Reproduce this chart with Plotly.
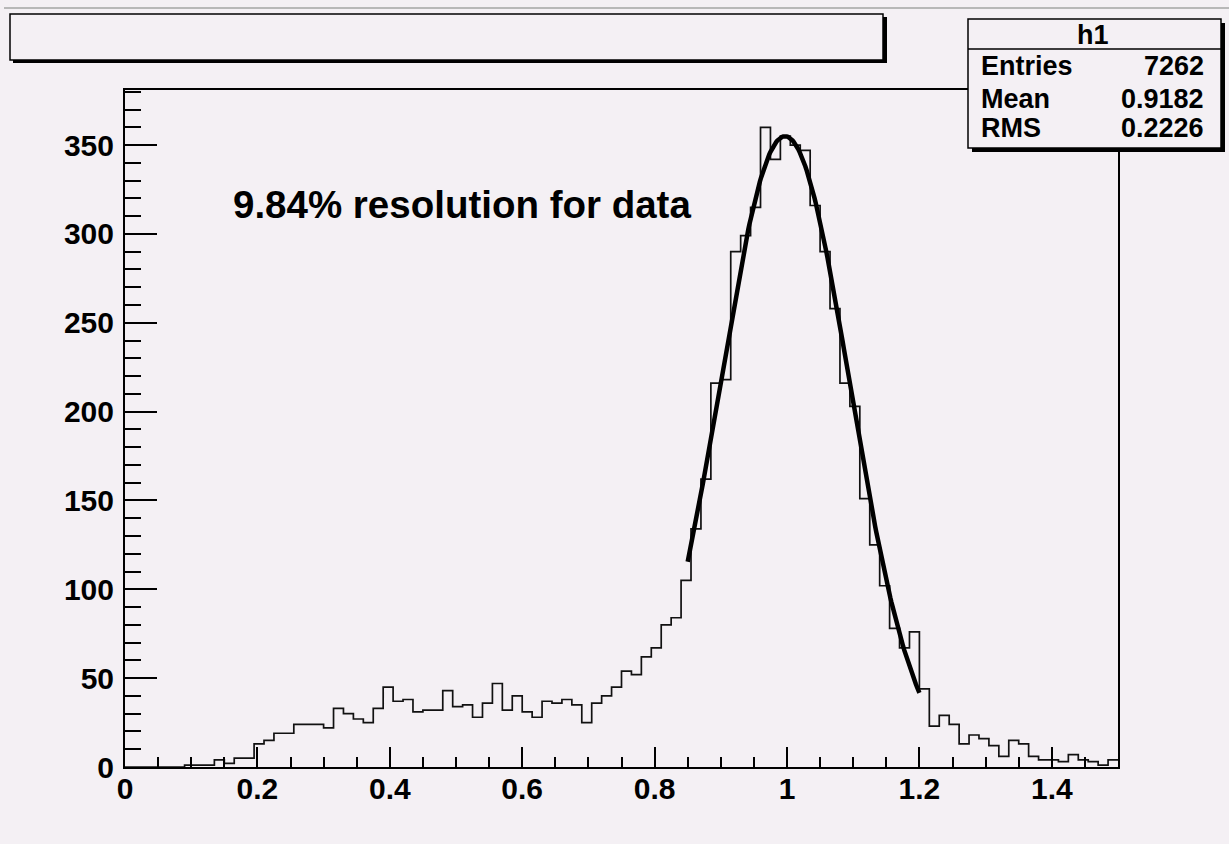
import numpy as np
import plotly.graph_objects as go

# Histogram h1: 100 bins from 0 to 1.5
x_min, x_max, n_bins = 0.0, 1.5, 100
bin_counts = [
    0, 0, 0, 0, 0, 0, 1, 1, 1, 4,
    2, 5, 5, 13, 15, 19, 19, 24, 24, 24,
    22, 33, 30, 27, 25, 33, 45, 37, 38, 31,
    32, 32, 43, 34, 35, 28, 36, 47, 32, 40,
    31, 28, 37, 36, 38, 35, 25, 36, 40, 45,
    54, 52, 62, 67, 80, 84, 105, 134, 162, 216,
    218, 290, 299, 315, 360, 342, 355, 350, 347, 316,
    290, 258, 216, 203, 151, 125, 102, 78, 67, 76,
    44, 23, 29, 24, 13, 18, 16, 12, 6, 15,
    13, 6, 4, 4, 3, 7, 4, 3, 1, 4,
]

# Gaussian fit over the peak
fit_const = 355.0
fit_mean = 0.997
fit_sigma = 0.0981
fit_lo, fit_hi = 0.85, 1.2

# Statistics box
stats_title = "h1"
stats_names = ["Entries", "Mean", "RMS"]
stats_values = ["7262", "0.9182", "0.2226"]

annotation_text = "9.84% resolution for data"

x_tick_vals = [0, 0.2, 0.4, 0.6, 0.8, 1.0, 1.2, 1.4]
y_tick_vals = [0, 50, 100, 150, 200, 250, 300, 350]

# ---- figure geometry (pixels) ----
W, H = 1229, 844
ML, MR, MT, MB = 125, 111, 90, 77
PW, PH = W - ML - MR, H - MT - MB
BG = "#f4f0f4"
FONT = "Liberation Sans, Arial, Helvetica, sans-serif"


def px(xp):
    return (xp - ML) / PW


def py(yp):
    return (H - MB - yp) / PH


bin_w = (x_max - x_min) / n_bins
edges = x_min + bin_w * np.arange(n_bins + 1)
step_y = list(bin_counts) + [bin_counts[-1]]

fit_x = np.linspace(fit_lo, fit_hi, 200)
fit_y = fit_const * np.exp(-0.5 * ((fit_x - fit_mean) / fit_sigma) ** 2)

fig = go.Figure()
fig.add_trace(go.Scatter(
    x=edges, y=step_y, mode="lines", line_shape="hv",
    line=dict(color="#111111", width=1.7), hoverinfo="skip",
))
fig.add_trace(go.Scatter(
    x=fit_x, y=fit_y, mode="lines",
    line=dict(color="#000000", width=4.5), hoverinfo="skip",
))

shapes = []
# thin grey rule along the top of the canvas
shapes.append(dict(type="line", xref="paper", yref="paper",
                   x0=px(4), x1=px(W), y0=py(8), y1=py(8),
                   line=dict(color="#b8b8b8", width=2), layer="above"))
# title box with shadow
shapes.append(dict(type="rect", xref="paper", yref="paper",
                   x0=px(13), x1=px(887), y0=py(63), y1=py(17),
                   fillcolor="black", line=dict(width=0), layer="above"))
shapes.append(dict(type="rect", xref="paper", yref="paper",
                   x0=px(10), x1=px(883), y0=py(60), y1=py(14),
                   fillcolor=BG, line=dict(color="black", width=1.5), layer="above"))
# statistics box with shadow
shapes.append(dict(type="rect", xref="paper", yref="paper",
                   x0=px(972), x1=px(1225), y0=py(152), y1=py(23),
                   fillcolor="black", line=dict(width=0), layer="above"))
shapes.append(dict(type="rect", xref="paper", yref="paper",
                   x0=px(968), x1=px(1221), y0=py(148), y1=py(19),
                   fillcolor=BG, line=dict(color="black", width=1.5), layer="above"))
shapes.append(dict(type="line", xref="paper", yref="paper",
                   x0=px(968), x1=px(1221), y0=py(49), y1=py(49),
                   line=dict(color="black", width=1.5), layer="above"))

annotations = []
annotations.append(dict(text=stats_title, xref="paper", yref="paper",
                        x=px(1093), y=py(35), xanchor="center", yanchor="middle",
                        showarrow=False, font=dict(size=27, color="black", family=FONT, weight="bold")))
for name, val, yc in zip(stats_names, stats_values, [66, 99, 128]):
    annotations.append(dict(text=name, xref="paper", yref="paper",
                            x=px(979), y=py(yc), xanchor="left", yanchor="middle",
                            showarrow=False, font=dict(size=27, color="black", family=FONT, weight="bold")))
    annotations.append(dict(text=val, xref="paper", yref="paper",
                            x=px(1206), y=py(yc), xanchor="right", yanchor="middle",
                            showarrow=False, font=dict(size=27, color="black", family=FONT, weight="bold")))
annotations.append(dict(text=annotation_text, xref="paper", yref="paper",
                        x=px(462), y=py(204), xanchor="center", yanchor="middle",
                        showarrow=False, font=dict(size=38.5, color="black", family=FONT, weight="bold")))

fig.update_layout(
    width=W, height=H, autosize=False,
    margin=dict(l=ML, r=MR, t=MT, b=MB, pad=0),
    paper_bgcolor=BG, plot_bgcolor=BG,
    showlegend=False,
    font=dict(family=FONT, size=30, color="black", weight="bold"),
    shapes=shapes, annotations=annotations,
    xaxis=dict(
        range=[x_min, x_max], showgrid=False, zeroline=False,
        showline=True, linecolor="black", linewidth=2, mirror=True,
        tickmode="array", tickvals=x_tick_vals,
        ticks="inside", ticklen=20, tickwidth=1.5, tickcolor="black",
        minor=dict(dtick=0.05, tick0=0, ticks="inside", ticklen=10,
                   tickwidth=1.5, tickcolor="black", showgrid=False),
        tickfont=dict(size=30, family=FONT, weight="bold"),
        ticklabelstandoff=-6,
    ),
    yaxis=dict(
        range=[0, 381], showgrid=False, zeroline=False,
        showline=True, linecolor="black", linewidth=2, mirror=True,
        tickmode="array", tickvals=y_tick_vals,
        ticks="inside", ticklen=32, tickwidth=1.5, tickcolor="black",
        minor=dict(dtick=10, tick0=0, ticks="inside", ticklen=16,
                   tickwidth=1.5, tickcolor="black", showgrid=False),
        tickfont=dict(size=30, family=FONT, weight="bold"),
        ticklabelstandoff=3,
    ),
)

fig.write_html("out.html")
